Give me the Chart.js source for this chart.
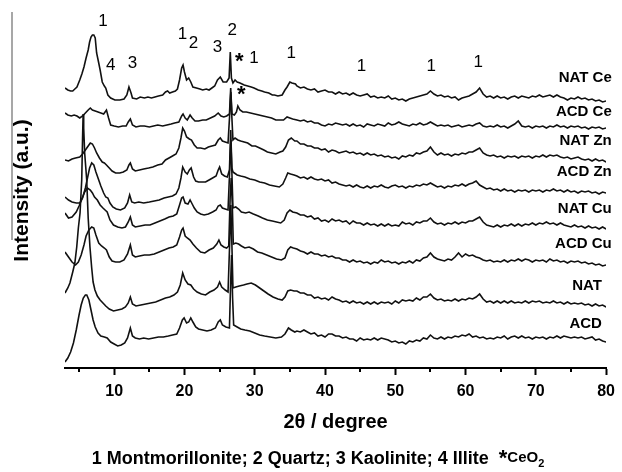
<!DOCTYPE html>
<html><head><meta charset="utf-8">
<script src="https://cdn.jsdelivr.net/npm/chart.js@4.4.1/dist/chart.umd.min.js"></script>
<style>html,body{margin:0;padding:0;background:#fff}#wrap{width:622px;height:472px}</style>
</head><body><div id="wrap"><canvas id="c" width="622" height="472"></canvas></div>
<script>
const FONT = '"Liberation Sans", Arial, Helvetica, sans-serif';

const natCe = [[3.0,280],[3.4,278],[3.8,277],[4.1,277],[4.4,279],[4.7,281],[5.1,288],[5.4,294],[5.7,301],[6.0,310],[6.3,318],[6.5,326],[6.7,331],[6.9,333],[7.1,333],[7.3,330],[7.5,315],[7.8,305],[8.0,298],[8.3,286],[8.6,282],[8.8,280],[9.1,273],[9.5,270],[10.1,268],[10.8,268],[11.4,269],[11.8,273],[12.1,281],[12.4,275],[12.6,270],[13.2,269],[13.7,271],[14.3,270],[14.8,271],[15.3,270],[15.8,271],[16.3,272],[16.9,273],[17.3,276],[17.6,277],[17.9,275],[18.3,276],[18.7,277],[19.0,279],[19.3,288],[19.6,300],[19.8,303],[20.0,296],[20.3,288],[20.6,290],[20.9,286],[21.2,281],[21.7,280],[22.2,279],[22.6,278],[23.1,279],[23.5,278],[23.9,280],[24.3,282],[24.7,288],[25.1,291],[25.5,286],[26.0,286],[26.35,290],[26.52,316],[26.68,290],[26.9,285],[27.2,288],[27.5,286],[27.9,285],[28.5,283],[29.0,282],[29.5,281],[29.9,280],[30.5,278],[31.0,277],[31.4,276],[32.0,275],[32.5,273],[32.8,273],[33.3,272],[33.9,273],[34.3,278],[34.6,281],[35.0,286],[35.3,285],[35.8,284],
[36.0,282],[36.5,280],[37.0,281],[37.5,279],[38.0,278],[38.5,279],[39.0,276],[39.5,277],[40.0,278],[40.5,276],[41.0,276],[41.5,274],[42.0,276],[42.5,274],[43.0,275],[43.5,273],[44.0,275],[44.5,273],[45.0,272],[45.5,273],[46.0,274],[46.5,271],[47.0,272],[47.5,270],[48.0,271],[48.5,270],[49.0,272],[49.5,269],[50.0,270],[50.5,268],[51.0,269],[51.5,267],[52.0,269],[52.5,270],[53.0,271],[53.5,272],[54.0,273],[54.5,274],[55.0,277],[55.5,274],[56.0,272],[56.5,273],[57.0,271],[57.5,272],[58.0,270],[58.5,271],[59.0,268],[59.5,270],[60.0,271],[60.5,272],[61.0,274],[61.5,276],[62.0,280],[62.5,274],[63.0,271],[63.5,272],[64.0,270],[64.5,272],[65.0,270],[65.5,271],[66.0,269],[66.5,271],[67.0,272],[67.5,270],[68.0,272],[68.5,271],[69.0,270],[69.5,272],[70.0,271],[70.5,273],[71.0,271],[71.5,272],[72.0,273],[72.5,271],[73.0,273],[73.5,271],[74.0,270],[74.5,268],[75.0,270],[75.5,269],[76.0,271],[76.5,269],[77.0,270],[77.5,268],[78.0,269],[78.5,267],[79.0,268],[79.5,266],[80.0,267]];

const acdCe = [[3.0,255],[3.4,253],[3.9,252],[4.3,253],[4.7,252],[5.1,250],[5.5,252],[5.9,255],[6.3,258],[6.6,260],[6.9,258],[7.3,257],[7.7,256],[8.1,255],[8.5,254],[8.9,258],[9.2,250],[9.5,243],[10.0,242],[10.6,241],[11.2,242],[11.7,242],[12.0,246],[12.3,249],[12.6,243],[13.1,241],[13.7,242],[14.3,242],[15.0,241],[15.6,242],[16.2,243],[16.9,242],[17.5,243],[18.1,244],[18.6,245],[19.2,246],[19.6,252],[19.8,254],[20.1,250],[20.4,248],[20.8,253],[21.1,250],[21.5,247],[22.0,247],[22.6,248],[23.1,248],[23.7,250],[24.3,252],[24.8,255],[25.2,252],[25.6,251],[26.0,252],[26.4,254],[26.58,280],[26.76,254],[27.1,253],[27.4,256],[27.6,262],[27.9,258],[28.3,256],[28.8,256],[29.4,255],[30.0,254],[30.6,253],[31.2,252],[31.8,251],[32.4,250],[33.0,248],[33.6,248],[34.1,248],[34.6,251],[35.0,250],[35.4,249],
[36.0,248],[36.5,247],[37.0,248],[37.5,246],[38.0,247],[38.5,245],[39.0,245],[39.5,243],[40.0,242],[40.5,244],[41.0,243],[41.5,245],[42.0,244],[42.5,243],[43.0,244],[43.5,242],[44.0,244],[44.5,242],[45.0,243],[45.5,241],[46.0,244],[46.5,243],[47.0,242],[47.5,244],[48.0,243],[48.5,242],[49.0,245],[49.5,243],[50.0,244],[50.5,246],[51.0,244],[51.5,243],[52.0,242],[52.5,244],[53.0,243],[53.5,245],[54.0,243],[54.5,244],[55.0,246],[55.5,244],[56.0,242],[56.5,243],[57.0,242],[57.5,243],[58.0,241],[58.5,242],[59.0,243],[59.5,241],[60.0,242],[60.5,243],[61.0,242],[61.5,244],[62.0,245],[62.5,242],[63.0,241],[63.5,242],[64.0,241],[64.5,243],[65.0,241],[65.5,242],[66.0,240],[66.5,242],[67.0,244],[67.5,247],[68.0,242],[68.5,241],[69.0,242],[69.5,240],[70.0,242],[70.5,241],[71.0,242],[71.5,240],[72.0,242],[72.5,241],[73.0,243],[73.5,241],[74.0,242],[74.5,240],[75.0,242],[75.5,241],[76.0,242],[76.5,240],[77.0,241],[77.5,239],[78.0,241],[78.5,240],[79.0,241],[79.5,239],[80.0,240]];

const natZn = [[3.0,208],[3.5,207],[4.0,209],[4.5,210],[5.1,211],[5.5,214],[5.9,218],[6.3,222],[6.6,225],[6.9,224],[7.2,220],[7.5,215],[7.9,210],[8.3,206],[8.6,205],[8.9,203],[9.3,200],[9.7,197],[10.2,195],[10.8,195],[11.3,196],[11.8,198],[12.1,203],[12.3,205],[12.6,199],[13.0,197],[13.6,198],[14.2,199],[14.9,200],[15.5,201],[16.2,203],[16.8,204],[17.3,208],[17.8,210],[18.3,212],[18.8,214],[19.2,220],[19.5,230],[19.75,240],[20.0,237],[20.3,231],[20.7,229],[21.0,228],[21.4,223],[21.8,220],[22.3,220],[22.9,219],[23.4,221],[23.9,222],[24.4,223],[24.8,228],[25.1,230],[25.4,227],[25.8,226],[26.2,225],[26.45,255],[26.6,276],[26.75,250],[26.9,228],[27.2,230],[27.6,228],[28.0,227],[28.5,226],[29.0,225],[29.6,222],[30.1,222],[30.7,220],[31.3,218],[31.8,216],[32.4,215],[33.0,214],[33.6,216],[34.0,217],[34.4,221],[34.8,228],[35.2,230],[35.7,227],
[36.0,227],[36.5,224],[37.0,224],[37.5,222],[38.0,222],[38.5,220],[39.0,220],[39.5,218],[40.0,219],[40.5,216],[41.0,218],[41.5,217],[42.0,215],[42.5,216],[43.0,217],[43.5,215],[44.0,216],[44.5,214],[45.0,215],[45.5,213],[46.0,215],[46.5,213],[47.0,214],[47.5,212],[48.0,213],[48.5,211],[49.0,212],[49.5,210],[50.0,211],[50.5,209],[51.0,212],[51.5,211],[52.0,213],[52.5,212],[53.0,215],[53.5,214],[54.0,216],[54.5,217],[55.0,221],[55.5,216],[56.0,213],[56.5,215],[57.0,213],[57.5,214],[58.0,212],[58.5,214],[59.0,213],[59.5,215],[60.0,214],[60.5,216],[61.0,216],[61.5,218],[62.0,220],[62.5,215],[63.0,213],[63.5,212],[64.0,213],[64.5,211],[65.0,212],[65.5,210],[66.0,212],[66.5,211],[67.0,212],[67.5,210],[68.0,212],[68.5,211],[69.0,212],[69.5,210],[70.0,212],[70.5,211],[71.0,213],[71.5,211],[72.0,213],[72.5,212],[73.0,213],[73.5,211],[74.0,210],[74.5,211],[75.0,209],[75.5,210],[76.0,211],[76.5,209],[77.0,208],[77.5,209],[78.0,207],[78.5,209],[79.0,207],[79.5,208],[80.0,206]];

const acdZn = [[3.0,171],[3.5,168],[4.0,166],[4.6,165],[5.1,165],[5.5,170],[5.9,180],[6.2,190],[6.5,200],[6.8,205],[7.1,203],[7.4,196],[7.8,188],[8.1,182],[8.5,175],[8.8,171],[9.1,170],[9.4,165],[9.8,161],[10.3,159],[10.9,158],[11.5,160],[11.9,165],[12.2,173],[12.5,166],[12.9,165],[13.5,166],[14.2,165],[15.0,166],[15.7,167],[16.4,168],[17.1,170],[17.7,171],[18.3,172],[18.8,174],[19.2,180],[19.5,190],[19.75,201],[20.1,196],[20.4,194],[20.7,198],[20.95,200],[21.3,191],[21.6,187],[22.0,186],[22.5,186],[23.0,186],[23.5,188],[24.0,190],[24.5,192],[24.8,198],[25.0,201],[25.3,194],[25.7,192],[26.1,191],[26.4,198],[26.58,238],[26.75,200],[26.9,196],[27.1,195],[27.5,193],[28.0,192],[28.6,191],[29.3,189],[30.0,188],[30.7,186],[31.4,185],[32.1,183],[32.8,182],[33.5,181],[34.0,184],[34.4,190],[34.7,195],[35.1,194],[35.6,193],
[36.0,192],[36.5,190],[37.0,191],[37.5,189],[38.0,191],[38.5,189],[39.0,188],[39.5,189],[40.0,187],[40.5,188],[41.0,185],[41.5,186],[42.0,184],[42.5,183],[43.0,182],[43.5,183],[44.0,181],[44.5,183],[45.0,181],[45.5,180],[46.0,182],[46.5,180],[47.0,182],[47.5,181],[48.0,183],[48.5,181],[49.0,180],[49.5,182],[50.0,183],[50.5,181],[51.0,182],[51.5,180],[52.0,182],[52.5,181],[53.0,183],[53.5,182],[54.0,184],[54.5,183],[55.0,185],[55.5,183],[56.0,181],[56.5,182],[57.0,180],[57.5,182],[58.0,181],[58.5,183],[59.0,182],[59.5,184],[60.0,182],[60.5,184],[61.0,185],[61.5,187],[62.0,183],[62.5,181],[63.0,179],[63.5,180],[64.0,178],[64.5,179],[65.0,177],[65.5,179],[66.0,177],[66.5,178],[67.0,176],[67.5,178],[68.0,177],[68.5,178],[69.0,176],[69.5,178],[70.0,177],[70.5,178],[71.0,176],[71.5,178],[72.0,177],[72.5,179],[73.0,177],[73.5,178],[74.0,176],[74.5,178],[75.0,176],[75.5,177],[76.0,175],[76.5,177],[77.0,176],[77.5,177],[78.0,175],[78.5,176],[79.0,174],[79.5,176],[80.0,175]];

const natCu = [[3.0,155],[3.5,150],[4.0,151],[4.6,156],[5.0,162],[5.4,169],[5.8,176],[6.2,180],[6.6,178],[6.9,175],[7.2,171],[7.6,168],[8.0,163],[8.4,160],[8.7,158],[9.0,156],[9.4,148],[9.9,143],[10.5,141],[11.1,140],[11.6,141],[12.0,146],[12.3,151],[12.6,143],[13.0,141],[13.7,142],[14.4,143],[15.1,143],[15.8,145],[16.5,147],[17.2,149],[17.8,151],[18.4,152],[18.9,154],[19.3,163],[19.6,170],[19.8,171],[20.1,165],[20.5,164],[20.8,168],[21.1,164],[21.4,160],[21.8,156],[22.3,154],[22.8,153],[23.4,154],[24.0,156],[24.5,158],[24.8,162],[25.1,163],[25.4,160],[25.8,159],[26.2,158],[26.45,200],[26.6,228],[26.75,195],[26.9,160],[27.3,161],[27.7,159],[28.1,156],[28.7,155],[29.2,156],[29.8,154],[30.5,152],[31.1,150],[31.8,148],[32.5,147],[33.1,146],[33.7,145],[34.2,148],[34.6,155],[35.0,158],[35.4,156],
[36.0,155],[36.5,153],[37.0,153],[37.5,151],[38.0,152],[38.5,149],[39.0,150],[39.5,147],[40.0,148],[40.5,146],[41.0,149],[41.5,147],[42.0,148],[42.5,146],[43.0,147],[43.5,144],[44.0,147],[44.5,145],[45.0,145],[45.5,143],[46.0,145],[46.5,143],[47.0,144],[47.5,142],[48.0,144],[48.5,142],[49.0,144],[49.5,142],[50.0,143],[50.5,142],[51.0,146],[51.5,144],[52.0,145],[52.5,143],[53.0,146],[53.5,145],[54.0,147],[54.5,147],[55.0,150],[55.5,146],[56.0,144],[56.5,145],[57.0,143],[57.5,145],[58.0,144],[58.5,146],[59.0,144],[59.5,146],[60.0,145],[60.5,147],[61.0,147],[61.5,149],[62.0,151],[62.5,146],[63.0,143],[63.5,142],[64.0,141],[64.5,143],[65.0,141],[65.5,143],[66.0,142],[66.5,144],[67.0,142],[67.5,144],[68.0,142],[68.5,144],[69.0,143],[69.5,145],[70.0,143],[70.5,145],[71.0,144],[71.5,146],[72.0,144],[72.5,145],[73.0,143],[73.5,145],[74.0,143],[74.5,142],[75.0,141],[75.5,143],[76.0,141],[76.5,142],[77.0,140],[77.5,142],[78.0,140],[78.5,141],[79.0,139],[79.5,141],[80.0,139]];

const acdCu = [[3.0,116],[3.5,111],[4.0,106],[4.5,103],[4.9,106],[5.3,113],[5.7,123],[6.0,132],[6.4,138],[6.8,141],[7.1,140],[7.4,133],[7.8,125],[8.2,122],[8.6,120],[8.9,118],[9.3,111],[9.7,107],[10.2,106],[10.8,106],[11.4,108],[11.9,114],[12.3,123],[12.6,113],[13.0,111],[13.6,112],[14.3,113],[15.0,113],[15.7,114],[16.4,116],[17.1,118],[17.8,120],[18.4,121],[18.9,123],[19.3,131],[19.6,138],[19.8,140],[20.1,132],[20.4,130],[20.8,128],[21.2,124],[21.7,120],[22.3,116],[22.9,115],[23.5,118],[24.1,120],[24.6,124],[24.9,128],[25.2,123],[25.6,121],[26.0,120],[26.3,122],[26.5,170],[26.65,190],[26.8,165],[26.95,124],[27.3,125],[27.7,124],[28.1,122],[28.6,120],[29.2,121],[29.8,119],[30.4,116],[31.0,115],[31.7,113],[32.4,111],[33.1,109],[33.8,108],[34.3,110],[34.7,118],[35.1,121],[35.5,120],
[36.0,119],[36.5,117],[37.0,116],[37.5,114],[38.0,116],[38.5,114],[39.0,114],[39.5,112],[40.0,113],[40.5,111],[41.0,112],[41.5,110],[42.0,110],[42.5,108],[43.0,108],[43.5,106],[44.0,108],[44.5,106],[45.0,107],[45.5,105],[46.0,106],[46.5,104],[47.0,106],[47.5,105],[48.0,108],[48.5,106],[49.0,107],[49.5,105],[50.0,106],[50.5,104],[51.0,106],[51.5,105],[52.0,107],[52.5,105],[53.0,108],[53.5,107],[54.0,110],[54.5,111],[55.0,115],[55.5,111],[56.0,109],[56.5,108],[57.0,107],[57.5,109],[58.0,108],[58.5,111],[59.0,115],[59.5,111],[60.0,114],[60.5,112],[61.0,113],[61.5,111],[62.0,110],[62.5,108],[63.0,107],[63.5,108],[64.0,106],[64.5,107],[65.0,106],[65.5,108],[66.0,106],[66.5,108],[67.0,107],[67.5,109],[68.0,107],[68.5,109],[69.0,108],[69.5,106],[70.0,108],[70.5,107],[71.0,108],[71.5,106],[72.0,109],[72.5,107],[73.0,108],[73.5,106],[74.0,107],[74.5,105],[75.0,107],[75.5,106],[76.0,107],[76.5,105],[77.0,106],[77.5,104],[78.0,105],[78.5,103],[79.0,104],[79.5,102],[80.0,103]];

const nat = [[3.0,75],[3.4,80],[3.7,85],[4.1,96],[4.4,105],[4.67,121],[4.9,140],[5.14,155],[5.38,188],[5.5,230],[5.58,254],[5.66,240],[5.8,215],[6.09,188],[6.3,150],[6.55,121],[6.8,100],[7.0,86],[7.26,78],[7.6,72],[8.0,68],[8.4,65],[8.8,62],[9.3,59],[9.9,57],[10.5,58],[11.1,59],[11.6,61],[12.0,65],[12.3,71],[12.6,64],[13.1,62],[13.8,63],[14.5,64],[15.2,65],[15.9,66],[16.6,68],[17.3,70],[17.9,71],[18.5,73],[19.0,76],[19.4,83],[19.75,95],[20.1,88],[20.5,84],[20.9,83],[21.3,79],[21.8,76],[22.4,74],[23.0,73],[23.6,76],[24.2,78],[24.7,81],[25.0,86],[25.3,81],[25.8,78],[26.2,76],[26.45,128],[26.6,163],[26.75,123],[26.9,80],[27.3,81],[27.8,82],[28.4,83],[28.9,84],[29.5,85],[30.1,83],[30.7,80],[31.3,77],[31.9,74],[32.6,71],[33.3,69],[33.9,68],[34.3,71],[34.7,77],[35.1,78],[35.6,77],
[36.0,77],[36.5,75],[37.0,75],[37.5,73],[38.0,73],[38.5,70],[39.0,71],[39.5,69],[40.0,70],[40.5,68],[41.0,71],[41.5,69],[42.0,68],[42.5,66],[43.0,67],[43.5,65],[44.0,67],[44.5,65],[45.0,66],[45.5,64],[46.0,66],[46.5,64],[47.0,66],[47.5,64],[48.0,66],[48.5,65],[49.0,66],[49.5,64],[50.0,67],[50.5,65],[51.0,68],[51.5,67],[52.0,68],[52.5,67],[53.0,70],[53.5,68],[54.0,71],[54.5,71],[55.0,74],[55.5,70],[56.0,68],[56.5,69],[57.0,67],[57.5,68],[58.0,67],[58.5,69],[59.0,67],[59.5,69],[60.0,68],[60.5,70],[61.0,69],[61.5,71],[62.0,74],[62.5,69],[63.0,66],[63.5,67],[64.0,65],[64.5,67],[65.0,65],[65.5,67],[66.0,65],[66.5,67],[67.0,65],[67.5,66],[68.0,65],[68.5,67],[69.0,65],[69.5,67],[70.0,66],[70.5,67],[71.0,65],[71.5,66],[72.0,65],[72.5,67],[73.0,65],[73.5,66],[74.0,64],[74.5,66],[75.0,64],[75.5,65],[76.0,64],[76.5,65],[77.0,63],[77.5,64],[78.0,62],[78.5,64],[79.0,62],[79.5,63],[80.0,61]];

const acd = [[3.0,6],[3.4,10],[3.8,16],[4.2,25],[4.6,38],[5.0,53],[5.3,63],[5.6,70],[5.9,73],[6.1,73],[6.4,68],[6.7,58],[7.0,48],[7.3,41],[7.7,35],[8.1,32],[8.6,31],[9.0,30],[9.5,26],[10.0,24],[10.5,22],[11.0,23],[11.5,25],[11.9,30],[12.3,40],[12.6,32],[13.0,30],[13.6,29],[14.2,30],[14.9,29],[15.6,30],[16.3,31],[17.0,31],[17.7,32],[18.3,33],[18.9,34],[19.3,40],[19.7,48],[19.95,50],[20.3,45],[20.6,46],[20.9,50],[21.2,46],[21.6,41],[22.0,39],[22.6,38],[23.2,37],[23.8,38],[24.4,40],[24.8,46],[25.1,48],[25.4,43],[25.9,41],[26.4,40],[26.55,80],[26.7,113],[26.85,70],[27.0,43],[27.5,41],[28.0,39],[28.6,38],[29.3,37],[30.0,35],[30.7,33],[31.4,32],[32.2,31],[33.0,30],[33.8,31],[34.3,34],[34.8,40],[35.2,38],[35.7,36],
[36.0,37],[36.5,36],[37.0,38],[37.5,36],[38.0,34],[38.5,35],[39.0,32],[39.5,33],[40.0,31],[40.5,34],[41.0,34],[41.5,32],[42.0,32],[42.5,30],[43.0,31],[43.5,29],[44.0,29],[44.5,27],[45.0,30],[45.5,28],[46.0,29],[46.5,28],[47.0,30],[47.5,28],[48.0,30],[48.5,29],[49.0,28],[49.5,26],[50.0,27],[50.5,25],[51.0,26],[51.5,24],[52.0,27],[52.5,26],[53.0,28],[53.5,27],[54.0,30],[54.5,29],[55.0,33],[55.5,30],[56.0,29],[56.5,31],[57.0,29],[57.5,31],[58.0,30],[58.5,32],[59.0,31],[59.5,33],[60.0,32],[60.5,34],[61.0,31],[61.5,32],[62.0,30],[62.5,31],[63.0,29],[63.5,30],[64.0,29],[64.5,31],[65.0,30],[65.5,32],[66.0,29],[66.5,31],[67.0,32],[67.5,30],[68.0,32],[68.5,30],[69.0,31],[69.5,29],[70.0,31],[70.5,30],[71.0,31],[71.5,29],[72.0,31],[72.5,30],[73.0,32],[73.5,30],[74.0,32],[74.5,31],[75.0,30],[75.5,31],[76.0,30],[76.5,31],[77.0,29],[77.5,30],[78.0,31],[78.5,28],[79.0,29],[79.5,27],[80.0,26]];

const seriesNames = ['NAT Ce','ACD Ce','NAT Zn','ACD Zn','NAT Cu','ACD Cu','NAT','ACD'];
const seriesData = [natCe, acdCe, natZn, acdZn, natCu, acdCu, nat, acd];
const labelX = [80.8, 80.8, 80.8, 80.8, 80.8, 80.8, 79.4, 79.4];
const labelY = [290, 256, 227, 196, 159, 124, 82, 44];
const majorTicks = [10, 20, 30, 40, 50, 60, 70, 80];
const minorTicks = [5, 15, 25, 35, 45, 55, 65, 75];
const markText = ['1','4','3','1','2','3','2','*','1','1','*','1','1','1'];
const markX =    [8.4, 9.5, 12.6, 19.7, 21.3, 24.7, 26.8, 27.8, 29.9, 35.2, 28.1, 45.2, 55.1, 61.8];
const markY =    [347, 303, 305, 334, 325, 321, 338, 311, 310, 315, 278, 302, 302, 306];
const legendMain = '1 Montmorillonite; 2 Quartz; 3 Kaolinite; 4 Illite';
const legendStar = '*';
const legendFormula = 'CeO';
const legendSub = '2';

const decor = {
  id: 'decor',
  beforeDraw(chart) {
    const ctx = chart.ctx;
    ctx.save();
    ctx.strokeStyle = '#8a8a8a';
    ctx.lineWidth = 1.5;
    ctx.beginPath(); ctx.moveTo(12, 12); ctx.lineTo(12, 240); ctx.stroke();
    ctx.restore();
  },
  afterDraw(chart) {
    const ctx = chart.ctx, xs = chart.scales.x, ys = chart.scales.y;
    ctx.save();
    ctx.strokeStyle = '#000'; ctx.lineWidth = 2;
    const b = chart.chartArea.bottom;
    minorTicks.forEach(v => {
      const px = Math.round(xs.getPixelForValue(v));
      ctx.beginPath(); ctx.moveTo(px, b); ctx.lineTo(px, b + 4); ctx.stroke();
    });
    ctx.fillStyle = '#000'; ctx.textAlign = 'center'; ctx.textBaseline = 'middle';
    markText.forEach((t, i) => {
      const px = xs.getPixelForValue(markX[i]), py = ys.getPixelForValue(markY[i]);
      if (t === '*') { ctx.font = 'bold 22px ' + FONT; ctx.fillText(t, px, py + 5); }
      else { ctx.font = '17px ' + FONT; ctx.fillText(t, px, py); }
    });
    ctx.font = 'bold 15px ' + FONT; ctx.textAlign = 'right';
    seriesNames.forEach((n, i) => {
      ctx.fillText(n, xs.getPixelForValue(labelX[i]), ys.getPixelForValue(labelY[i]));
    });
    ctx.textAlign = 'left'; ctx.textBaseline = 'alphabetic';
    const fMain = 'bold 18px ' + FONT, fStar = 'bold 22px ' + FONT, fF = 'bold 15px ' + FONT, fS = 'bold 11px ' + FONT;
    ctx.font = fMain; const w1 = ctx.measureText(legendMain).width;
    ctx.font = fStar; const w2 = ctx.measureText(legendStar).width;
    ctx.font = fF; const w3 = ctx.measureText(legendFormula).width;
    ctx.font = fS; const w4 = ctx.measureText(legendSub).width;
    const gap = 10;
    const total = w1 + gap + w2 + w3 + w4;
    let x0 = 318 - total / 2;
    const base = 464;
    ctx.font = fMain; ctx.fillText(legendMain, x0, base); x0 += w1 + gap;
    ctx.font = fStar; ctx.fillText(legendStar, x0, base + 1); x0 += w2;
    ctx.font = fF; ctx.fillText(legendFormula, x0, base - 2); x0 += w3;
    ctx.font = fS; ctx.fillText(legendSub, x0, base + 3);
    ctx.restore();
  }
};

new Chart(document.getElementById('c'), {
  type: 'line',
  data: {
    datasets: seriesData.map((d, i) => ({
      label: seriesNames[i],
      data: d.map(p => ({ x: p[0], y: p[1] })),
      borderColor: '#111', borderWidth: 1.6, pointRadius: 0, tension: 0, fill: false
    }))
  },
  options: {
    responsive: false, animation: false, devicePixelRatio: 1,
    layout: { padding: { top: 13, right: 13.5, left: 0, bottom: 0 } },
    plugins: { legend: { display: false }, tooltip: { enabled: false } },
    scales: {
      x: {
        type: 'linear', min: 3, max: 80, position: 'bottom',
        afterBuildTicks: s => { s.ticks = majorTicks.map(v => ({ value: v })); },
        ticks: { autoSkip: false, maxRotation: 0, padding: 7, color: '#000',
                 font: { family: FONT, size: 16, weight: 'bold' } },
        grid: { drawOnChartArea: false, drawTicks: true, tickLength: 7, tickWidth: 2, tickColor: '#000' },
        border: { display: true, color: '#000', width: 2 },
        title: { display: true, text: '2θ / degree', color: '#000',
                 font: { family: FONT, size: 20, weight: 'bold' }, padding: { top: 4, bottom: 38 } },
        afterFit: s => { s.height = 104; }
      },
      y: {
        min: 0, max: 355, display: true,
        ticks: { display: false }, grid: { display: false, drawTicks: false }, border: { display: false },
        title: { display: true, text: 'Intensity (a.u.)', color: '#000',
                 font: { family: FONT, size: 21, weight: 'bold' }, padding: { top: 10, bottom: 0 } },
        afterFit: s => { s.width = 65; }
      }
    }
  },
  plugins: [decor]
});
</script>
</body></html>
